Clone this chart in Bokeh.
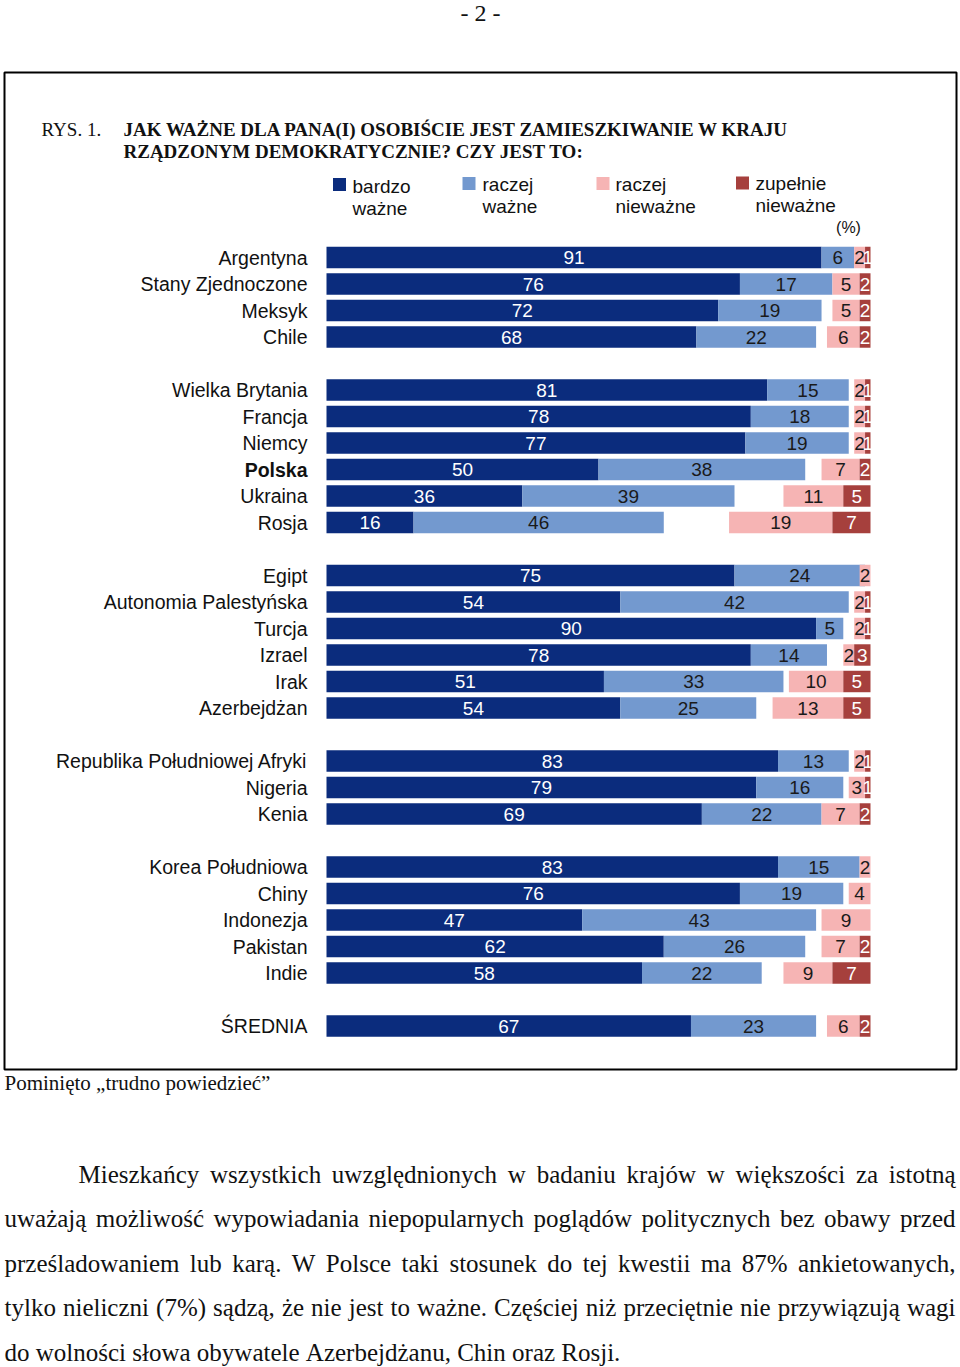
from bokeh.plotting import figure
from bokeh.models import Range1d, ColumnDataSource
from bokeh.core.properties import value
from bokeh.embed import file_html
from bokeh.resources import INLINE

# ---------------- data ----------------
countries = ["Argentyna", "Stany Zjednoczone", "Meksyk", "Chile",
             "Wielka Brytania", "Francja", "Niemcy", "Polska", "Ukraina", "Rosja",
             "Egipt", "Autonomia Palestyńska", "Turcja", "Izrael", "Irak", "Azerbejdżan",
             "Republika Południowej Afryki", "Nigeria", "Kenia",
             "Korea Południowa", "Chiny", "Indonezja", "Pakistan", "Indie",
             "ŚREDNIA"]
group_sizes = [4, 6, 6, 3, 5, 1]
bardzo_wazne = [91, 76, 72, 68, 81, 78, 77, 50, 36, 16, 75, 54, 90, 78, 51, 54, 83, 79, 69, 83, 76, 47, 62, 58, 67]
raczej_wazne = [6, 17, 19, 22, 15, 18, 19, 38, 39, 46, 24, 42, 5, 14, 33, 25, 13, 16, 22, 15, 19, 43, 26, 22, 23]
raczej_niewazne = [2, 5, 5, 6, 2, 2, 2, 7, 11, 19, 2, 2, 2, 2, 10, 13, 2, 3, 7, 2, 4, 9, 7, 9, 6]
zupelnie_niewazne = [1, 2, 2, 2, 1, 1, 1, 2, 5, 7, 0, 1, 1, 3, 5, 5, 1, 1, 2, 0, 0, 0, 2, 7, 2]
bold_country = "Polska"
legend_labels = [("bardzo", "ważne"), ("raczej", "ważne"), ("raczej", "nieważne"), ("zupełnie", "nieważne")]
total = 100

page_number = "- 2 -"
fig_label = "RYS. 1."
title_lines = ["JAK WAŻNE DLA PANA(I) OSOBIŚCIE JEST ZAMIESZKIWANIE W KRAJU",
               "RZĄDZONYM DEMOKRATYCZNIE? CZY JEST TO:"]
unit_label = "(%)"
footnote = "Pominięto \u201etrudno powiedzieć\u201d"
paragraph = ["Mieszkańcy wszystkich uwzględnionych w badaniu krajów w większości za istotną",
             "uważają możliwość wypowiadania niepopularnych poglądów politycznych bez obawy przed",
             "prześladowaniem lub karą. W Polsce taki stosunek do tej kwestii ma 87% ankietowanych,",
             "tylko nieliczni (7%) sądzą, że nie jest to ważne. Częściej niż przeciętnie nie przywiązują wagi",
             "do wolności słowa obywatele Azerbejdżanu, Chin oraz Rosji."]

# ---------------- styling / layout ----------------
C_DARK, C_LIGHT, C_PINK, C_RED = "#0b2c7d", "#7399cf", "#f6b4b4", "#a6403d"
SANS = value("Liberation Sans")
SERIF = value("Liberation Serif")
W, H = 960, 1367
BAR_X0, PX_PER_PCT = 326, 5.44
ROW0, ROW_STEP = 257, 26.5

p = figure(width=W, height=H, output_backend="svg", toolbar_location=None,
           x_range=Range1d(-BAR_X0 / PX_PER_PCT, (W - BAR_X0) / PX_PER_PCT),
           y_range=Range1d(H, 0),
           min_border=0, x_axis_location=None, y_axis_location=None,
           outline_line_color=None, background_fill_color="white", border_fill_color="white")
p.grid.visible = False
p.extra_x_ranges = {"px": Range1d(0, W)}
p.extra_y_ranges = {"rows": Range1d((H - ROW0) / ROW_STEP, -ROW0 / ROW_STEP)}

# row index with a blank slot between groups
rows = []
for g, n in enumerate(group_sizes):
    for k in range(n):
        rows.append(len(rows) + g)

b1 = list(bardzo_wazne)
b2 = [a + b for a, b in zip(bardzo_wazne, raczej_wazne)]
p1 = [total - d for d in zupelnie_niewazne]
p0 = [r - c for r, c in zip(p1, raczej_niewazne)]

src = ColumnDataSource(dict(y=rows, b1=b1, b2=b2, p0=p0, p1=p1, zero=[0] * len(rows),
                            full=[total] * len(rows)))
BH = 0.81
p.hbar(y="y", left="zero", right="b1", height=BH, fill_color=C_DARK, line_color=None, source=src, y_range_name="rows")
p.hbar(y="y", left="b1", right="b2", height=BH, fill_color=C_LIGHT, line_color=None, source=src, y_range_name="rows")
p.hbar(y="y", left="p0", right="p1", height=BH, fill_color=C_PINK, line_color=None, source=src, y_range_name="rows")
p.hbar(y="y", left="p1", right="full", height=BH, fill_color=C_RED, line_color=None, source=src, y_range_name="rows")

# segment value labels
lx, ly, lt, lc = [], [], [], []
for i in range(len(rows)):
    segs = [(0, b1[i], bardzo_wazne[i], "white"),
            (b1[i], b2[i], raczej_wazne[i], "#1a1a1a"),
            (p0[i], p1[i], raczej_niewazne[i], "#1a1a1a"),
            (p1[i], total, zupelnie_niewazne[i], "white")]
    for a, b, v, c in segs:
        if v > 0:
            lx.append((a + b) / 2); ly.append(rows[i]); lt.append(str(v)); lc.append(c)
p.text(x="x", y="y", text="t", text_color="c", source=ColumnDataSource(dict(x=lx, y=ly, t=lt, c=lc)),
       y_range_name="rows", text_align="center", text_baseline="middle",
       text_font=SANS, text_font_size="19px")

# category labels
styles = ["bold" if c == bold_country else "normal" for c in countries]
p.text(x="x", y="y", text="t", text_font_style="s",
       source=ColumnDataSource(dict(x=[307] * len(rows), y=rows, t=countries, s=styles)),
       x_range_name="px", y_range_name="rows", text_align="right", text_baseline="middle",
       text_font=SANS, text_font_size="19.5px", text_color="#111111")

# legend
sq_x = [339, 468.5, 602.5, 742]
sq_y = [184, 183, 183, 182.5]
tx_x = [352, 482, 615, 755]
tx_y1 = [186, 184, 184, 183]
p.scatter(x=sq_x, y=sq_y, marker="square", size=13, fill_color=[C_DARK, C_LIGHT, C_PINK, C_RED],
          line_color=None, x_range_name="px")
p.text(x=tx_x + tx_x, y=tx_y1 + [v + 22 for v in tx_y1],
       text=[a for a, b in legend_labels] + [b for a, b in legend_labels],
       x_range_name="px", text_align="left", text_baseline="middle",
       text_font=SANS, text_font_size="19px", text_color="#111111")
p.text(x=[848], y=[227], text=[unit_label], x_range_name="px", text_align="center",
       text_baseline="middle", text_font=SANS, text_font_size="16px", text_color="#111111")

# page number, figure box, title
p.text(x=[480], y=[12], text=[page_number], x_range_name="px", text_align="center",
       text_baseline="middle", text_font=SERIF, text_font_size="24px", text_color="#111111")
p.quad(left=[4], right=[956], top=[72], bottom=[1069], fill_color=None,
       line_color="black", line_width=2, x_range_name="px")
p.text(x=[41], y=[129], text=[fig_label], x_range_name="px", text_align="left",
       text_baseline="middle", text_font=SERIF, text_font_size="19px", text_color="#111111")
p.text(x=[123, 123], y=[129, 151], text=title_lines, x_range_name="px", text_align="left",
       text_baseline="middle", text_font=SERIF, text_font_size="19px",
       text_font_style="bold", text_color="#111111")
p.text(x=[4], y=[1082], text=[footnote], x_range_name="px", text_align="left",
       text_baseline="middle", text_font=SERIF, text_font_size="21px", text_color="#111111")

# justified paragraph (Times / Liberation Serif advance widths, 1/1000 em)
MET = {" ": 250, ",": 250, ".": 250, "(": 333, ")": 333, "%": 833,
       "a": 444, "b": 500, "c": 444, "d": 500, "e": 444, "f": 333, "g": 500, "h": 500, "i": 278,
       "j": 278, "k": 500, "l": 278, "m": 778, "n": 500, "o": 500, "p": 500, "q": 500, "r": 333,
       "s": 389, "t": 278, "u": 500, "v": 500, "w": 722, "x": 500, "y": 500, "z": 444,
       "ą": 444, "ć": 444, "ę": 444, "ł": 278, "ń": 500, "ó": 500, "ś": 389, "ź": 444, "ż": 444,
       "A": 722, "C": 667, "M": 889, "P": 556, "R": 667, "W": 944}
FS = 25
def wwidth(w):
    return sum(MET.get(ch, 500) for ch in w) * FS / 1000.0

mid_y = [1173.5, 1218, 1262.5, 1307, 1351.5]
left_x = [78, 4, 4, 4, 4]
right_x = 955
wx, wy, wt = [], [], []
for li, line in enumerate(paragraph):
    words = line.split(" ")
    widths = [wwidth(w) for w in words]
    if li < len(paragraph) - 1:
        gap = (right_x - left_x[li] - sum(widths)) / (len(words) - 1)
    else:
        gap = MET[" "] * FS / 1000.0
    x = left_x[li]
    for w, ww in zip(words, widths):
        wx.append(x); wy.append(mid_y[li]); wt.append(w)
        x += ww + gap
p.text(x="x", y="y", text="t", source=ColumnDataSource(dict(x=wx, y=wy, t=wt)), x_range_name="px",
       text_align="left", text_baseline="middle", text_font=SERIF,
       text_font_size=f"{FS}px", text_color="#111111")

open("out.html", "w").write(file_html(p, INLINE))
